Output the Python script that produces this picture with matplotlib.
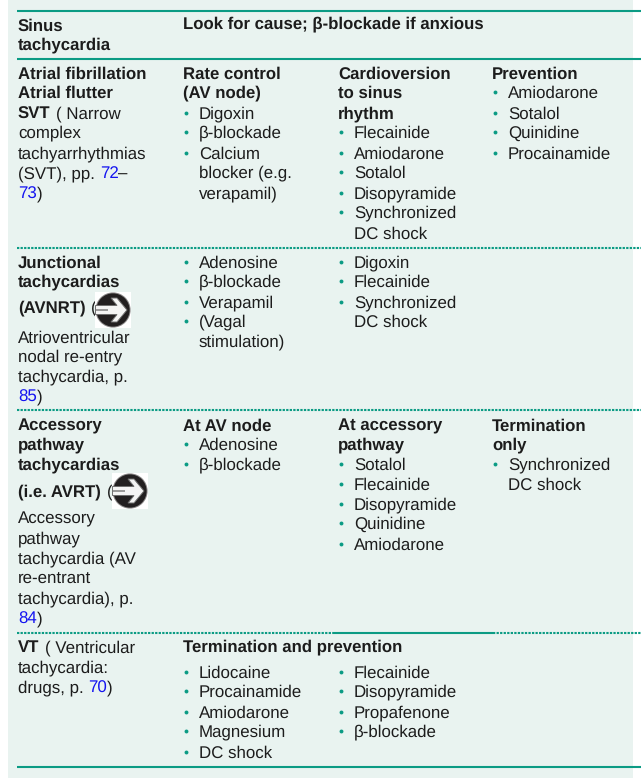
import matplotlib
matplotlib.use("Agg")
import matplotlib.pyplot as plt
from matplotlib.patches import Rectangle, Circle, Polygon

plt.rcParams['font.family'] = ['Liberation Sans', 'DejaVu Sans']
plt.rcParams['text.hinting'] = 'none'

BG, TEAL, INK, LINK = '#e9f3f0', '#0b9b84', '#1c1c1c', '#1414f0'
FS_REG, FS_BOLD = 12.2, 12.05

# ---- table content ----
sinus_text = 'Look for cause; β-blockade if anxious'
rate_head = ['Rate control', '(AV node)']
rate_items = ['Digoxin', 'β-blockade', 'Calcium', 'blocker (e.g.', 'verapamil)']
cardio_head = ['Cardioversion', 'to sinus', 'rhythm']
cardio_items = ['Flecainide', 'Amiodarone', 'Sotalol', 'Disopyramide', 'Synchronized', 'DC shock']
prev_head = ['Prevention']
prev_items = ['Amiodarone', 'Sotalol', 'Quinidine', 'Procainamide']
junc_col2 = ['Adenosine', 'β-blockade', 'Verapamil', '(Vagal', 'stimulation)']
junc_col3 = ['Digoxin', 'Flecainide', 'Synchronized', 'DC shock']
acc_head2 = ['At AV node']
acc_items2 = ['Adenosine', 'β-blockade']
acc_head3 = ['At accessory', 'pathway']
acc_items3 = ['Sotalol', 'Flecainide', 'Disopyramide', 'Quinidine', 'Amiodarone']
acc_head4 = ['Termination', 'only']
acc_items4 = ['Synchronized', 'DC shock']
vt_head = 'Termination and prevention'
vt_items1 = ['Lidocaine', 'Procainamide', 'Amiodarone', 'Magnesium', 'DC shock']
vt_items2 = ['Flecainide', 'Disopyramide', 'Propafenone', 'β-blockade']

# first column: (baseline, [(x, text, style), ...])
first_col = [
    (31, [(18, 'Sinus', 'b')]), (50, [(18, 'tachycardia', 'b')]),
    (79, [(18, 'Atrial fibrillation', 'b')]), (98, [(18, 'Atrial flutter', 'b')]),
    (119, [(18, 'SVT', 'b'), (56, '( Narrow', 'r')]), (138, [(18, 'complex', 'r')]),
    (159, [(18, 'tachyarrhythmias', 'r')]),
    (179, [(18, '(SVT), pp.', 'r'), (100, '72', 'l'), (118, '–', 'r')]),
    (199, [(18, '73', 'l'), (37, ')', 'r')]),
    (268, [(18, 'Junctional', 'b')]), (287, [(18, 'tachycardias', 'b')]),
    (313, [(18, '(AVNRT)', 'b'), (91, '(', 'r')]),
    (343, [(18, 'Atrioventricular', 'r')]), (362, [(18, 'nodal re-entry', 'r')]),
    (382, [(18, 'tachycardia, p.', 'r')]), (402, [(18, '85', 'l'), (37, ')', 'r')]),
    (431, [(18, 'Accessory', 'b')]), (450, [(18, 'pathway', 'b')]),
    (470, [(18, 'tachycardias', 'b')]),
    (497, [(18, '(i.e. AVRT)', 'b'), (107, '(', 'r')]),
    (524, [(18, 'Accessory', 'r')]), (544, [(18, 'pathway', 'r')]),
    (564, [(18, 'tachycardia (AV', 'r')]), (584, [(18, 're-entrant', 'r')]),
    (604, [(18, 'tachycardia), p.', 'r')]), (624, [(18, '84', 'l'), (37, ')', 'r')]),
    (653, [(18, 'VT', 'b'), (45, '( Ventricular', 'r')]), (673, [(18, 'tachycardia:', 'r')]),
    (693, [(18, 'drugs, p.', 'r'), (88, '70', 'l'), (107, ')', 'r')]),
]

fig = plt.figure(figsize=(6.41, 7.78), dpi=100, facecolor='white')
ax = fig.add_axes([0, 0, 1, 1])
ax.set_xlim(0, 641)
ax.set_ylim(778, 0)
ax.axis('off')
ax.add_patch(Rectangle((8, 0), 625, 778, fc=BG, ec='none', zorder=0))


def put(x, y, s, style='r'):
    bold = style == 'b'
    ax.text(x, y - 0.6, s, fontsize=FS_BOLD if bold else FS_REG, va='baseline', ha='left',
            fontweight='bold' if bold else 'normal',
            color=LINK if style == 'l' else INK, zorder=3)


def heads(x, lines, ys):
    for s, y in zip(lines, ys):
        put(x, y, s, 'b')


def bullets(x, lines, ys, cont=()):
    for i, (s, y) in enumerate(zip(lines, ys)):
        put(x + 16, y, s)
        if i not in cont:
            ax.plot([x + 2.5], [y - 5.8], 'o', ms=2.8, mfc=TEAL, mec='none', zorder=3)


def arrow(x0, y0, size=36):
    cx, cy = x0 + size / 2, y0 + size / 2
    k = size / 36
    ax.add_patch(Rectangle((x0, y0), size, size, fc='white', ec='none', zorder=4))
    ax.add_patch(Circle((cx, cy), 17.6 * k, fc='#8a8888', ec='none', zorder=5))
    ax.add_patch(Circle((cx, cy), 16.6 * k, fc='#221f20', ec='none', zorder=5))
    pts = [(-17.5, -4.5), (4, -4.5), (-2, -12), (4, -12), (14, 0), (4, 12), (-2, 12), (4, 4.5), (-17.5, 4.5)]
    ax.add_patch(Polygon([(cx + k * a, cy + k * b) for a, b in pts], fc='#f4f4f4',
                         ec='#6e6e6e', lw=0.7, zorder=6))
    ax.add_patch(Rectangle((cx - 17.5 * k, cy - 0.8 * k), 12 * k, 1.6 * k, fc='#9a9a9a', ec='none', zorder=7))


for y, segs in first_col:
    for x, s, st in segs:
        put(x, y, s, st)

put(183, 29, sinus_text, 'b')
heads(183, rate_head, [79, 98])
bullets(183, rate_items, [119, 138, 159, 178, 199], cont=(3, 4))
heads(338, cardio_head, [79, 98, 119])
bullets(338, cardio_items, [138, 159, 178, 199, 218, 239], cont=(5,))
heads(492, prev_head, [79])
bullets(492, prev_items, [98, 119, 138, 159])

bullets(183, junc_col2, [268, 287, 308, 327, 347], cont=(4,))
bullets(338, junc_col3, [268, 287, 308, 327], cont=(3,))
arrow(95, 292)

heads(183, acc_head2, [431])
bullets(183, acc_items2, [450, 470])
heads(338, acc_head3, [431, 450])
bullets(338, acc_items3, [470, 490, 510, 529, 550])
heads(492, acc_head4, [431, 450])
bullets(492, acc_items4, [470, 490], cont=(1,))
arrow(112, 473)

put(183, 652, vt_head, 'b')
bullets(183, vt_items1, [678, 697, 718, 737, 758])
bullets(338, vt_items2, [678, 697, 718, 737])

# rules
DOT = (0, (1.1, 0.6))
for y in (11, 59, 767):
    ax.plot([17, 641], [y, y], color=TEAL, lw=1.5, solid_capstyle='butt', zorder=2)
for y in (248, 410):
    ax.plot([17, 641], [y, y], color=TEAL, lw=1.5, ls=DOT, dash_capstyle='butt', zorder=2)
ax.plot([17, 334], [633, 633], color=TEAL, lw=1.5, ls=DOT, dash_capstyle='butt', zorder=2)
ax.plot([334, 493], [633, 633], color=TEAL, lw=1.5, solid_capstyle='butt', zorder=2)
ax.plot([493, 641], [633, 633], color=TEAL, lw=1.5, ls=DOT, dash_capstyle='butt', zorder=2)

fig.savefig('out.png', dpi=100, facecolor='white')
